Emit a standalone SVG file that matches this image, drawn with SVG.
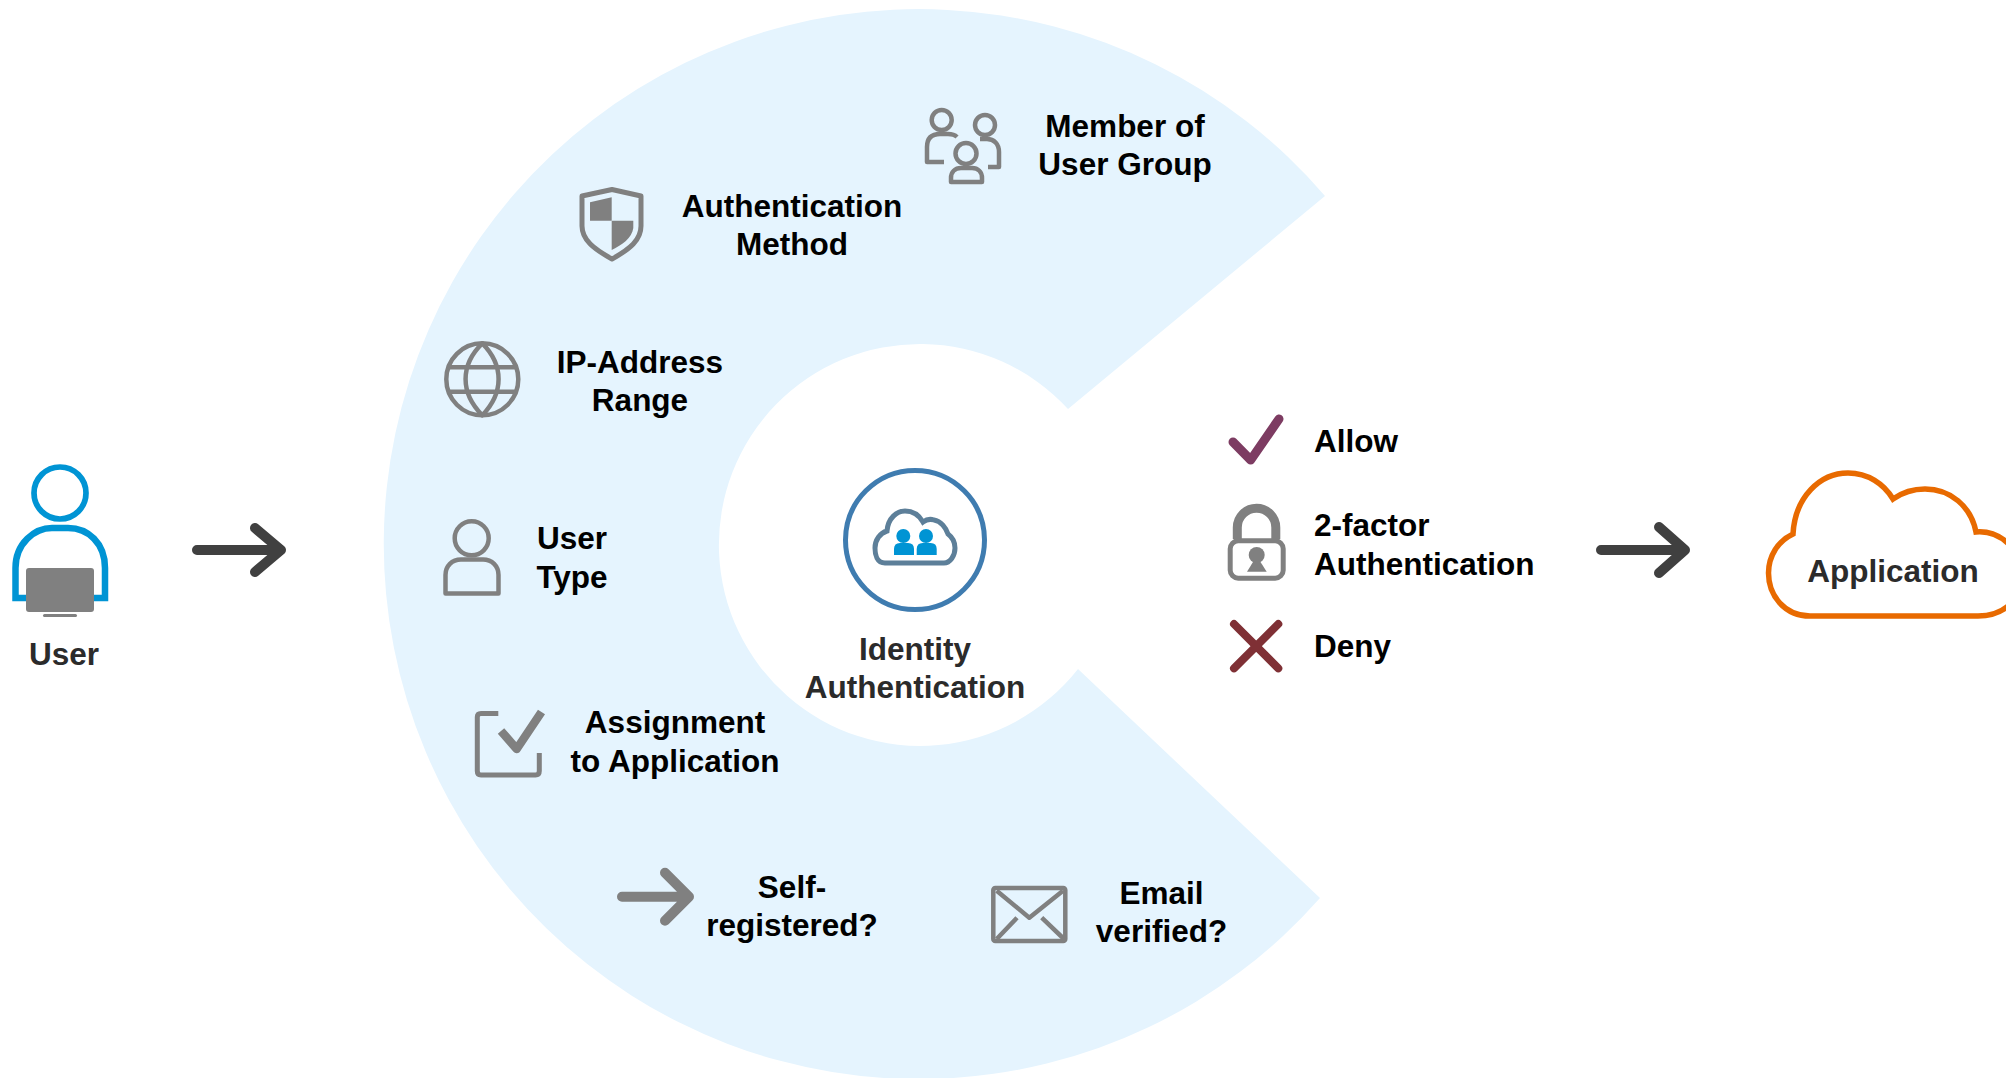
<svg xmlns="http://www.w3.org/2000/svg" width="2006" height="1078" viewBox="0 0 2006 1078">
<style>
text{font-family:"Liberation Sans",Arial,sans-serif;font-weight:700;font-size:31.5px;fill:#000}
.c{text-anchor:middle}
.d{fill:#2b2b2b}
.g{fill:none;stroke:#808080;stroke-width:4.5;stroke-linecap:butt;stroke-linejoin:round}
.f{fill:#808080}
.a{fill:none;stroke:#404040;stroke-width:10;stroke-linecap:round;stroke-linejoin:round}
</style>
<rect width="2006" height="1078" fill="#fff"/>
<path id="sector" d="M1325 196A535 535 0 1 0 1320 898L1078 669A201 201 0 1 1 1068 409Z" fill="#e5f4fe"/>
<g id="connectors">
<path class="a" d="M197 550H281M255 528L281 550L255 572"/>
<path class="a" d="M1601 550H1685M1659 527L1685 550L1659 573"/>
</g>
<g id="user">
<circle cx="60" cy="493" r="26" fill="none" stroke="#0094d4" stroke-width="5.7"/>
<path d="M15.5 598V568C15.500 543 35 528 52 528H68C88 528 105 543 105 568V598Z" fill="none" stroke="#0094d4" stroke-width="6.500"/>
<rect class="f" x="26" y="568" width="68" height="44" rx="3"/>
<rect class="f" x="43" y="614" width="34" height="3" rx="1.500"/>
<text class="c d" x="64" y="665">User</text>
</g>
<g id="member-of-user-group">
<circle class="g" cx="941.700" cy="120" r="10"/>
<circle class="g" cx="985" cy="125" r="10"/>
<circle class="g" cx="966" cy="153.500" r="10.500"/>
<path class="g" d="M944 162H927V147C927 138 932 134 940 134H948C952 134 955 135 957 137"/>
<path class="g" d="M988 167H999V152C999 144 994 139 987 139H980"/>
<path class="g" d="M951 182V178C951 172 955 168 961 168H972C978 168 982 172 982 178V182Z"/>
<text class="c" x="1125" y="137">Member of</text>
<text class="c" x="1125" y="175">User Group</text>
</g>
<g id="authentication-method">
<path class="g" style="stroke-width:5" d="M612 189.500L641 196V226C641 240 630 249 612 259C594 249 582 240 582 226V196Z"/>
<path class="f" d="M590 202.300L611.700 197.300V220.700H590Z"/>
<path class="f" d="M611.700 220.700H633.300V228C632 238 622 245 611.700 250Z"/>
<text class="c" x="792" y="217">Authentication</text>
<text class="c" x="792" y="255">Method</text>
</g>
<g id="ip-address-range">
<circle class="g" cx="482.300" cy="379.300" r="36"/>
<path class="g" d="M482.300 343.300C504 365 504 393 482.300 415.300C460 393 460 365 482.300 343.300ZM449 367.300H516M449 391.700H516"/>
<text class="c" x="640" y="372.500">IP-Address</text>
<text class="c" x="640" y="410.500">Range</text>
</g>
<g id="user-type">
<circle class="g" cx="471.700" cy="538.300" r="17"/>
<path class="g" d="M445.500 593.500V575C445.500 566 452 559.500 461 559.500H483C492 559.500 498.500 566 498.500 575V593.500Z"/>
<text class="c" x="572" y="549">User</text>
<text class="c" x="572" y="587.500">Type</text>
</g>
<g id="assignment-to-application">
<path class="g" style="stroke-width:5" d="M498.300 713.500H481Q477.300 713.500 477.300 717V771Q477.300 775 481 775H535.500Q539.300 775 539.300 771V753"/>
<path d="M501 731L516.700 749L541.500 712" fill="none" stroke="#808080" stroke-width="8.500" stroke-linejoin="round"/>
<text class="c" x="675" y="733">Assignment</text>
<text class="c" x="675" y="771.500">to Application</text>
</g>
<g id="self-registered">
<path d="M622 896.700H689M665 872.700L689 896.700L665 920.700" fill="none" stroke="#808080" stroke-width="10" stroke-linecap="round" stroke-linejoin="round"/>
<text class="c" x="792" y="898">Self-</text>
<text class="c" x="792" y="936">registered?</text>
</g>
<g id="email-verified">
<rect class="g" x="993.300" y="888" width="72" height="53" rx="2"/>
<path class="g" d="M996.700 890.700L1029.300 917.700L1063 890.700M996.700 939L1017 917.700M1041.700 917.700L1064 939"/>
<text class="c" x="1161.500" y="903.500">Email</text>
<text class="c" x="1161.500" y="941.500">verified?</text>
</g>
<g id="identity-authentication">
<circle cx="915" cy="540" r="69.500" fill="#fff" stroke="#3f7cb0" stroke-width="5"/>
<path d="M885 563C877 563 875 555 875 548C875 540 880 533 887 531C888 518 897 511 905 511C913 511 919 515 923 522C927 519 931 519 934 520C941 521 946 528 948 534C952 537 955 542 955 548C955 556 950 563 944 563Z" fill="none" stroke="#5d7f99" stroke-width="5"/>
<circle cx="903.300" cy="536" r="7" fill="#0094d4"/>
<circle cx="926" cy="536" r="7" fill="#0094d4"/>
<path d="M894 555V549Q894 543 900 543H908Q914 543 914 549V555Z" fill="#0094d4"/>
<path d="M916.700 555V549Q916.700 543 922.700 543H930.700Q936.700 543 936.700 549V555Z" fill="#0094d4"/>
<text class="c d" x="915" y="660">Identity</text>
<text class="c d" x="915" y="698">Authentication</text>
</g>
<g id="allow">
<path d="M1233 442L1250.700 460L1279 419" fill="none" stroke="#7d3c62" stroke-width="9" stroke-linecap="round" stroke-linejoin="round"/>
<text x="1314" y="452">Allow</text>
</g>
<g id="two-factor-authentication">
<path d="M1237.300 539V527.500A19.250 19.250 0 0 1 1275.800 527.500V539" fill="none" stroke="#808080" stroke-width="9"/>
<rect x="1230.200" y="540.800" width="53" height="37.400" rx="8" fill="#fff" fill-opacity="0" stroke="#808080" stroke-width="5"/>
<circle class="f" cx="1256.700" cy="555" r="8"/>
<path class="f" d="M1256.700 556L1266.700 571.700H1247Z"/>
<text x="1314" y="536">2-factor</text>
<text x="1314" y="574.500">Authentication</text>
</g>
<g id="deny">
<path d="M1234 624L1278.300 668.300M1278.300 624L1234 668.300" fill="none" stroke="#7f3035" stroke-width="8" stroke-linecap="round"/>
<text x="1314" y="657">Deny</text>
</g>
<g id="application">
<path d="M1810 616C1785 616 1768.500 596 1768.500 573C1768.500 556 1778 541 1793 534C1795 497 1820 473 1848 473C1868 473 1884 484 1893 499C1903 492 1914 489 1925 489C1950 489 1971 506 1976 532C2000 530 2022 550 2022 575C2022 600 2003 616 1978 616Z" fill="none" stroke="#e86a00" stroke-width="5.500"/>
<text class="c d" x="1893" y="582">Application</text>
</g>
</svg>
